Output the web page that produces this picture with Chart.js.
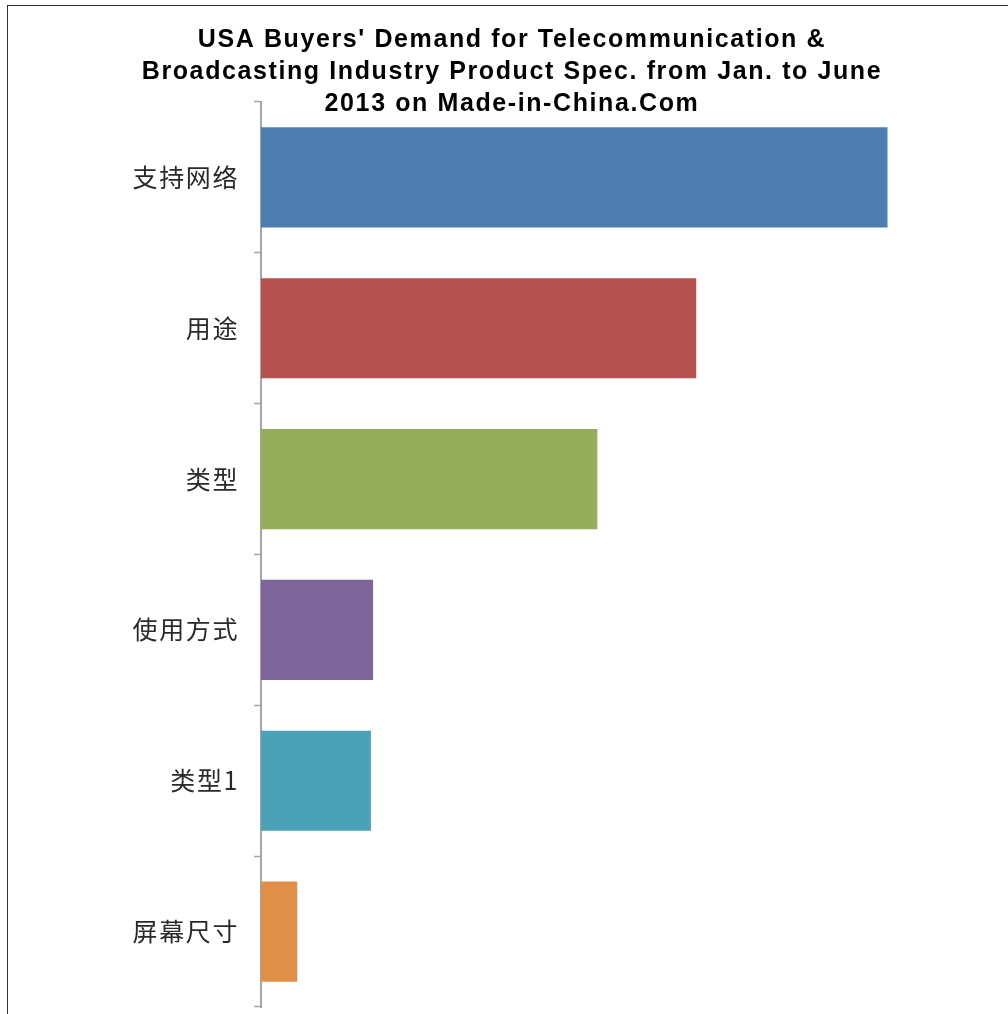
<!DOCTYPE html>
<html lang="zh">
<head>
<meta charset="UTF-8">
<title>USA Buyers' Demand</title>
<script src="https://cdn.jsdelivr.net/npm/chart.js"></script>
<style>
    html, body {
        margin: 0;
        padding: 0;
        background: #fff;
        overflow: hidden;
        width: 1008px;
        height: 1014px;
    }
    .frame {
        position: absolute;
        left: 7px;
        top: 5px;
        width: 1020px;
        height: 1030px;
        border: 1.5px solid #333;
        box-sizing: border-box;
    }
    .chart {
        position: absolute;
        left: 9px;
        top: 7px;
        width: 1006px;
        height: 1030px;
    }
</style>
</head>
<body>
<div class="frame"></div>
<div class="chart">
    <canvas id="specChart"></canvas>
</div>
<script>
// spec categories and share of buyer demand
const specs = ['支持网络', '用途', '类型', '使用方式', '类型1', '屏幕尺寸'];
const demand = [28.5, 19.8, 15.3, 5.1, 5.0, 1.65];
const barColors = ['#4e7eb0', '#b4524f', '#95ae5a', '#7e6599', '#4ba2b7', '#e08f47'];
const titleLines = [
    "USA Buyers' Demand for Telecommunication &",
    "Broadcasting Industry Product Spec. from Jan. to June",
    "2013 on Made-in-China.Com"
];

// the old GDI text is a bit looser than canvas text
const spacing = {
    id: 'spacing',
    beforeUpdate(chart) { chart.ctx.letterSpacing = '1.6px'; },
    beforeDraw(chart) { chart.ctx.letterSpacing = '1.6px'; }
};

const ctx = document.getElementById('specChart').getContext('2d');
const specChart = new Chart(ctx, {
    type: 'bar',
    data: {
        labels: specs,
        datasets: [{
            data: demand,
            backgroundColor: barColors,
            borderWidth: 0,
            barPercentage: 0.83,
            categoryPercentage: 0.8
        }]
    },
    plugins: [spacing],
    options: {
        indexAxis: 'y',
        responsive: true,
        maintainAspectRatio: false,
        animation: false,
        layout: {
            padding: 0
        },
        plugins: {
            legend: { display: false },
            tooltip: { enabled: false },
            title: {
                display: true,
                text: titleLines,
                color: '#000',
                font: { family: 'Liberation Sans, Arial, sans-serif', size: 25, weight: 'bold', lineHeight: 32 / 25 },
                padding: { top: 17, bottom: -18 }
            }
        },
        scales: {
            x: {
                display: false,
                min: 0,
                max: 34.3
            },
            y: {
                afterFit: (scale) => { scale.width = 252; },
                border: { display: true, color: '#a5a5a5', width: 2 },
                grid: {
                    drawOnChartArea: false,
                    drawTicks: true,
                    tickLength: 7,
                    tickColor: '#a5a5a5',
                    tickWidth: 1.5,
                    offset: true
                },
                ticks: {
                    color: '#2a2a2a',
                    padding: 15,
                    font: { family: 'Noto Sans CJK SC, sans-serif', size: 25 }
                }
            }
        }
    }
});
</script>
</body>
</html>
